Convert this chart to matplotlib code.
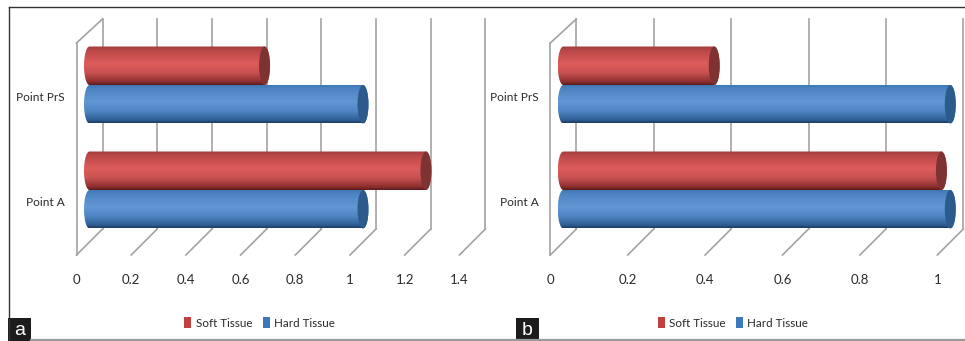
#!/usr/bin/env python
"""Two cylinder bar panels (a, b): soft vs hard tissue at Point A and Point PrS."""
import numpy as np
import matplotlib
matplotlib.use("Agg")
import matplotlib.pyplot as plt
from matplotlib.colors import LinearSegmentedColormap
from matplotlib.patches import Ellipse, PathPatch, Rectangle
from matplotlib.path import Path

W, H = 965, 341

categories = ["Point A", "Point PrS"]
series_names = ["Soft Tissue", "Hard Tissue"]
soft_a = [1.23, 0.64]
hard_a = [1.0, 1.0]
soft_b = [0.977, 0.39]
hard_b = [1.0, 1.0]
ticks_a = [0, 0.2, 0.4, 0.6, 0.8, 1, 1.2, 1.4]
ticks_b = [0, 0.2, 0.4, 0.6, 0.8, 1]

RED = LinearSegmentedColormap.from_list(
    "red", [(0, "#a23a3a"), (0.12, "#bb4848"), (0.45, "#de5c5c"),
            (0.7, "#c65050"), (0.92, "#8c2f2f"), (1, "#5e1a1a")])
BLUE = LinearSegmentedColormap.from_list(
    "blue", [(0, "#3f72ac"), (0.12, "#4c84c2"), (0.45, "#6197d3"),
             (0.7, "#4f85c3"), (0.92, "#2f5f96"), (1, "#1d3c62")])
RED_CAP = "#7f3232"
BLUE_CAP = "#2d5a8c"
GRID = "#a3a3a3"
TEXT = "#2a2a2a"
plt.rcParams["font.family"] = ["Lato", "DejaVu Sans"]

# vertical pixel layout shared by both panels
TOP, BOTTOM = 19, 255
ROW_A, ROW_P = 190, 85
BAR_PX = 38.5
DEPTH_X, DEPTH_Y = 26, 26
WALL_TOP = 43


def cylinder(ax, v, y0, y1, cmap, cap, half_w):
    yc = (y0 + y1) / 2
    ry = (y1 - y0) / 2
    t = np.linspace(np.pi / 2, 3 * np.pi / 2, 40)
    left = np.c_[half_w * np.cos(t), yc + ry * np.sin(t)]
    t = np.linspace(-np.pi / 2, np.pi / 2, 40)
    right = np.c_[v + half_w * np.cos(t), yc + ry * np.sin(t)]
    pts = np.r_[left, right, left[:1]]
    clip = PathPatch(Path(pts), fc="none", ec="none", transform=ax.transData)
    ax.add_patch(clip)
    grad = np.linspace(0, 1, 128).reshape(-1, 1)
    im = ax.imshow(grad, cmap=cmap, aspect="auto", zorder=4,
                   extent=(-half_w, v + half_w, y0, y1), origin="upper",
                   interpolation="bilinear")
    im.set_clip_path(clip)
    ax.add_patch(Ellipse((v, yc), 2 * half_w, y1 - y0, fc=cap, ec="none", zorder=4.1))


def panel(x0, unit, ticks, soft, hard, legend_x, tag, tag_x):
    # axes spans the front-left corner of the floor out to the last back gridline
    vmax = ticks[-1]
    right = x0 + unit * vmax + DEPTH_X
    ax = fig.add_axes([x0 / W, 1 - BOTTOM / H, (right - x0) / W, (BOTTOM - TOP) / H])
    mid = DEPTH_X / 2 / unit
    per_row = ROW_A - ROW_P
    ybot, ytop = (ROW_A - BOTTOM) / per_row, 1 + (ROW_P - TOP) / per_row
    ax.axis("off")
    dx = DEPTH_X / unit
    dy = DEPTH_Y / per_row

    for v in ticks:
        front, back = v - mid, v - mid + dx
        ax.plot([front, back], [ybot, ybot + dy], color=GRID, lw=1.2, zorder=1, clip_on=False)
        ax.plot([back, back], [ybot + dy, ytop], color=GRID, lw=1.2, zorder=1, clip_on=False)
        ax.text(v - mid, ybot - 25 / per_row, f"{v:g}", ha="center", va="center",
                fontsize=9.5, color=TEXT)
    wall = ytop - (WALL_TOP - TOP) / per_row
    ax.plot([-mid, -mid], [ybot, wall], color=GRID, lw=1.2, zorder=1, clip_on=False)
    ax.plot([-mid, -mid + dx], [wall, ytop], color=GRID, lw=1.2, zorder=1, clip_on=False)

    h = BAR_PX / per_row
    half_w = 5.5 / unit
    for i, name in enumerate(categories):
        cylinder(ax, hard[i], i - h, i, BLUE, BLUE_CAP, half_w)
        cylinder(ax, soft[i], i, i + h, RED, RED_CAP, half_w)
        ax.text(-mid - 12 / unit, i - 12.5 / per_row, name, ha="right", va="center",
                fontsize=8.6, color=TEXT)
    ax.set_xlim(-mid, vmax + mid)
    ax.set_ylim(ybot, ytop)

    handles = [Rectangle((0, 0), 1, 1, fc="#c0403f"), Rectangle((0, 0), 1, 1, fc="#3d78bb")]
    fig.legend(handles, series_names, ncol=2, frameon=False, fontsize=8.4,
               loc="center", bbox_to_anchor=(legend_x / W, 1 - 323 / H),
               handlelength=0.62, handleheight=1.0, handletextpad=0.35,
               columnspacing=0.9, labelcolor=TEXT, borderpad=0)

    fig.patches.append(Rectangle((tag_x / W, 0), 23 / W, 23 / H, fc="#1c1c1c", ec="none",
                                 transform=fig.transFigure, figure=fig))
    fig.text((tag_x + 11.5) / W, 10.5 / H, tag, color="white", fontsize=14,
             ha="center", va="center", family=["Liberation Sans", "DejaVu Sans"])


fig = plt.figure(figsize=(W / 100, H / 100), dpi=100)
fig.add_artist(plt.Line2D([8.5 / W, 8.5 / W], [0, 1 - 6.5 / H], color="#333333", lw=1))
fig.add_artist(plt.Line2D([8.5 / W, 1], [1 - 6.5 / H, 1 - 6.5 / H], color="#333333", lw=1))
fig.add_artist(plt.Line2D([31 / W, 1], [1.2 / H, 1.2 / H], color="#9a9a9a", lw=1.6))

panel(76.5, 273.5, ticks_a, soft_a, hard_a, 259.5, "a", 8)
panel(550.3, 387, ticks_b, soft_b, hard_b, 733, "b", 516)

fig.savefig("out.png", dpi=100)
